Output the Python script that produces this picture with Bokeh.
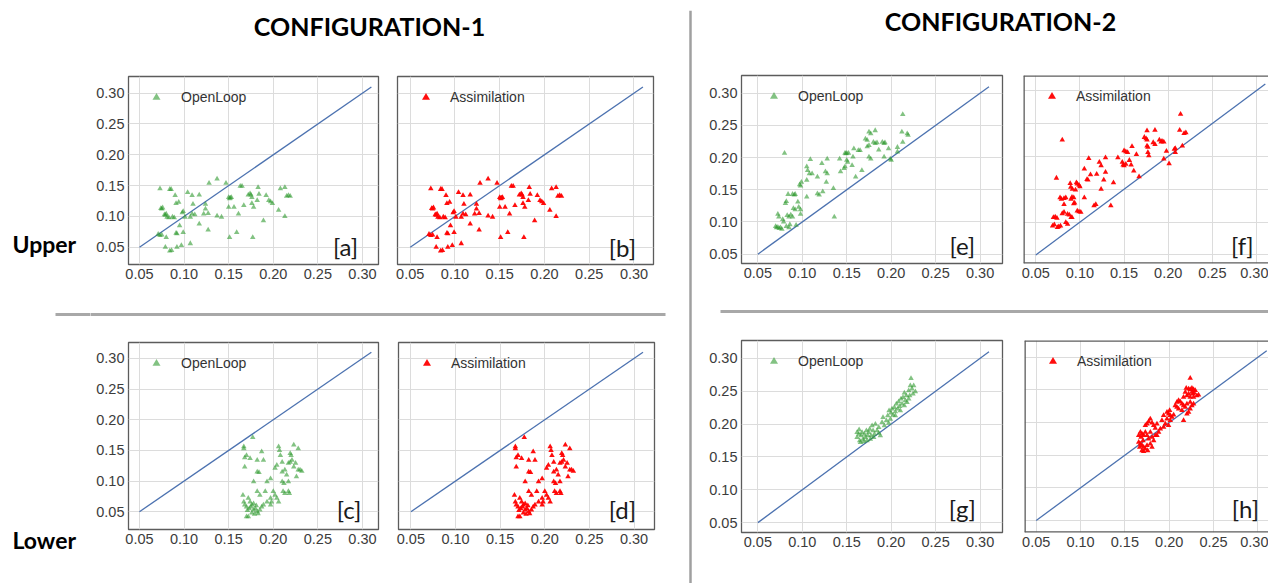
from bokeh.plotting import figure
from bokeh.layouts import row, column
from bokeh.models import Range1d, FixedTicker, NumeralTickFormatter, Label, Span
from bokeh.embed import file_html
from bokeh.resources import INLINE

# ---------------- data ----------------
ticks = [0.05, 0.10, 0.15, 0.20, 0.25, 0.30]
diag_x = [0.05, 0.31]
diag_y = [0.05, 0.31]

# Configuration-1, upper (panels a and b)
up1_x = [0.073, 0.084, 0.0855, 0.074, 0.075, 0.076, 0.078, 0.079, 0.080, 0.081, 0.083, 0.087, 0.089, 0.091,
         0.094, 0.090, 0.071, 0.073, 0.075, 0.080, 0.079, 0.084, 0.086, 0.092, 0.097, 0.091, 0.092, 0.095,
         0.099, 0.098, 0.099, 0.101, 0.104, 0.107, 0.109, 0.109, 0.110, 0.107, 0.112, 0.117, 0.117, 0.124,
         0.124, 0.122, 0.127, 0.128, 0.127, 0.137, 0.137, 0.142, 0.147, 0.150, 0.151, 0.152, 0.153, 0.150,
         0.151, 0.156, 0.159, 0.161, 0.163, 0.165, 0.167, 0.172, 0.174, 0.175, 0.176, 0.176, 0.178, 0.177,
         0.183, 0.184, 0.182, 0.192, 0.195, 0.197, 0.199, 0.189, 0.206, 0.208, 0.213, 0.213, 0.215, 0.217,
         0.219]
up1_y = [0.145, 0.144, 0.144, 0.113, 0.112, 0.114, 0.103, 0.102, 0.104, 0.099, 0.098, 0.099, 0.098, 0.121,
         0.123, 0.134, 0.071, 0.069, 0.070, 0.066, 0.050, 0.044, 0.045, 0.050, 0.053, 0.073, 0.072, 0.085,
         0.074, 0.106, 0.108, 0.099, 0.139, 0.099, 0.104, 0.134, 0.120, 0.056, 0.103, 0.135, 0.088, 0.120,
         0.112, 0.104, 0.105, 0.154, 0.078, 0.161, 0.101, 0.099, 0.154, 0.131, 0.129, 0.130, 0.131, 0.115,
         0.066, 0.115, 0.074, 0.104, 0.149, 0.149, 0.118, 0.135, 0.137, 0.135, 0.131, 0.121, 0.115, 0.066,
         0.147, 0.136, 0.126, 0.134, 0.126, 0.124, 0.121, 0.093, 0.110, 0.145, 0.147, 0.100, 0.133, 0.134,
         0.133]

# Configuration-1, lower (panels c and d)
lo1_x = [0.167, 0.167, 0.177, 0.170, 0.168, 0.168, 0.174, 0.182, 0.187, 0.182, 0.184, 0.189, 0.178, 0.166,
         0.167, 0.168, 0.170, 0.172, 0.174, 0.176, 0.178, 0.170, 0.172, 0.180, 0.182, 0.185, 0.187, 0.182,
         0.185, 0.191, 0.193, 0.197, 0.197, 0.198, 0.200, 0.202, 0.204, 0.206, 0.202, 0.204, 0.206, 0.207,
         0.208, 0.210, 0.210, 0.212, 0.210, 0.213, 0.215, 0.217, 0.217, 0.218, 0.217, 0.219, 0.221, 0.219,
         0.220, 0.223, 0.223, 0.225, 0.226, 0.228, 0.228, 0.230, 0.232, 0.193, 0.189, 0.197, 0.183, 0.178,
         0.213, 0.211, 0.175, 0.173, 0.171, 0.176, 0.179, 0.181]
lo1_y = [0.156, 0.153, 0.171, 0.142, 0.138, 0.123, 0.137, 0.134, 0.148, 0.115, 0.114, 0.134, 0.099, 0.077,
         0.066, 0.061, 0.058, 0.072, 0.066, 0.061, 0.063, 0.042, 0.042, 0.055, 0.050, 0.053, 0.058, 0.083,
         0.077, 0.083, 0.099, 0.104, 0.061, 0.066, 0.083, 0.077, 0.072, 0.066, 0.121, 0.126, 0.156, 0.150,
         0.142, 0.131, 0.099, 0.096, 0.115, 0.118, 0.110, 0.099, 0.083, 0.080, 0.129, 0.131, 0.134, 0.145,
         0.142, 0.159, 0.123, 0.129, 0.107, 0.118, 0.153, 0.118, 0.116, 0.066, 0.061, 0.072, 0.047, 0.053,
         0.080, 0.083, 0.058, 0.055, 0.052, 0.048, 0.046, 0.060]

# Configuration-2, upper, OpenLoop (panel e)
up2_ol_x = [0.080, 0.0725, 0.0736, 0.070, 0.071, 0.0725, 0.074, 0.0755, 0.077, 0.078, 0.079, 0.081, 0.082,
            0.084, 0.083, 0.085, 0.087, 0.089, 0.082, 0.085, 0.086, 0.089, 0.091, 0.092, 0.090, 0.092, 0.093,
            0.095, 0.097, 0.098, 0.099, 0.096, 0.098, 0.098, 0.105, 0.105, 0.106, 0.105, 0.109, 0.108, 0.111,
            0.117, 0.117, 0.119, 0.122, 0.123, 0.126, 0.128, 0.128, 0.127, 0.135, 0.136, 0.142, 0.143, 0.147,
            0.148, 0.148, 0.149, 0.150, 0.152, 0.150, 0.151, 0.156, 0.157, 0.160, 0.158, 0.163, 0.165, 0.167,
            0.171, 0.173, 0.175, 0.177, 0.173, 0.175, 0.175, 0.177, 0.180, 0.182, 0.184, 0.182, 0.186, 0.190,
            0.192, 0.193, 0.192, 0.197, 0.199, 0.200, 0.207, 0.207, 0.212, 0.213, 0.213, 0.218, 0.219]
up2_ol_y = [0.207, 0.112, 0.108, 0.093, 0.091, 0.092, 0.090, 0.091, 0.089, 0.104, 0.100, 0.129, 0.132,
            0.143, 0.110, 0.108, 0.111, 0.108, 0.093, 0.091, 0.096, 0.143, 0.142, 0.143, 0.121, 0.119, 0.095,
            0.131, 0.158, 0.156, 0.162, 0.123, 0.119, 0.112, 0.139, 0.186, 0.180, 0.165, 0.197, 0.175, 0.175,
            0.170, 0.144, 0.142, 0.191, 0.147, 0.178, 0.175, 0.198, 0.162, 0.152, 0.108, 0.198, 0.178, 0.183,
            0.186, 0.207, 0.206, 0.207, 0.207, 0.196, 0.193, 0.188, 0.201, 0.170, 0.214, 0.211, 0.211, 0.180,
            0.229, 0.227, 0.240, 0.237, 0.217, 0.219, 0.201, 0.198, 0.224, 0.222, 0.223, 0.242, 0.212, 0.224,
            0.222, 0.223, 0.201, 0.214, 0.198, 0.196, 0.216, 0.209, 0.240, 0.224, 0.267, 0.237, 0.235]

# Configuration-2, upper, Assimilation (panel f)
up2_as_x = [0.080, 0.0734, 0.070, 0.072, 0.074, 0.069, 0.071, 0.0745, 0.076, 0.078, 0.0775, 0.079, 0.082,
            0.084, 0.080, 0.082, 0.082, 0.086, 0.088, 0.084, 0.086, 0.089, 0.0896, 0.0915, 0.090, 0.091,
            0.093, 0.093, 0.094, 0.090, 0.091, 0.095, 0.096, 0.097, 0.099, 0.100, 0.097, 0.099, 0.101, 0.105,
            0.105, 0.108, 0.109, 0.110, 0.112, 0.116, 0.118, 0.119, 0.122, 0.124, 0.124, 0.127, 0.129, 0.129,
            0.135, 0.138, 0.143, 0.148, 0.149, 0.150, 0.152, 0.154, 0.150, 0.152, 0.156, 0.158, 0.159, 0.161,
            0.164, 0.167, 0.173, 0.175, 0.176, 0.176, 0.176, 0.177, 0.177, 0.178, 0.183, 0.185, 0.185, 0.190,
            0.192, 0.193, 0.195, 0.198, 0.201, 0.195, 0.207, 0.208, 0.208, 0.214, 0.213, 0.216, 0.218, 0.220]
up2_as_y = [0.225, 0.167, 0.107, 0.108, 0.106, 0.094, 0.096, 0.092, 0.093, 0.094, 0.137, 0.135, 0.136,
            0.137, 0.113, 0.115, 0.127, 0.112, 0.111, 0.0995, 0.097, 0.159, 0.153, 0.150, 0.135, 0.138,
            0.137, 0.128, 0.129, 0.107, 0.107, 0.149, 0.160, 0.158, 0.156, 0.154, 0.117, 0.116, 0.115, 0.137,
            0.181, 0.165, 0.164, 0.197, 0.172, 0.125, 0.127, 0.173, 0.191, 0.186, 0.150, 0.164, 0.176, 0.198,
            0.125, 0.160, 0.198, 0.191, 0.187, 0.2085, 0.207, 0.206, 0.186, 0.188, 0.194, 0.187, 0.215, 0.178,
            0.203, 0.169, 0.229, 0.227, 0.225, 0.239, 0.216, 0.214, 0.206, 0.201, 0.221, 0.218, 0.240, 0.225,
            0.222, 0.223, 0.222, 0.208, 0.189, 0.196, 0.211, 0.212, 0.206, 0.264, 0.240, 0.216, 0.235, 0.236]

# Configuration-2, lower, OpenLoop (panel g)
lo2_ol_x = [0.1616, 0.1635, 0.1646, 0.1661, 0.1672, 0.1684, 0.1699, 0.1710, 0.1721, 0.1736, 0.1747, 0.1758,
            0.1773, 0.1785, 0.1796, 0.1811, 0.1822, 0.1841, 0.1860, 0.1878, 0.1897, 0.1908, 0.1654, 0.1691,
            0.1728, 0.1616, 0.1639, 0.1766, 0.1803, 0.1860, 0.1923, 0.1946, 0.1961, 0.1976, 0.1991, 0.1998,
            0.2009, 0.2021, 0.2036, 0.2047, 0.2058, 0.2073, 0.2084, 0.2096, 0.2110, 0.2122, 0.2133, 0.2148,
            0.2159, 0.2170, 0.2178, 0.2197, 0.2208, 0.2215, 0.2223, 0.2234, 0.2245, 0.2253, 0.2272, 0.2148,
            0.2103, 0.2047, 0.1972, 0.2197]
lo2_ol_y = [0.1796, 0.1847, 0.1745, 0.1821, 0.1872, 0.1770, 0.1847, 0.1796, 0.1897, 0.1821, 0.1872, 0.1923,
            0.1821, 0.1974, 0.1897, 0.1847, 0.1999, 0.1897, 0.1948, 0.1821, 0.2024, 0.2101, 0.1720, 0.1730,
            0.1745, 0.1872, 0.1913, 0.1770, 0.1796, 0.1862, 0.1974, 0.2050, 0.2126, 0.2202, 0.2075, 0.2167,
            0.2228, 0.2136, 0.2253, 0.2187, 0.2304, 0.2228, 0.2339, 0.2268, 0.2380, 0.2304, 0.2405, 0.2472,
            0.2355, 0.2431, 0.2329, 0.2507, 0.2431, 0.2583, 0.2695, 0.2533, 0.2456, 0.2583, 0.2492, 0.2278,
            0.2202, 0.2126, 0.2014, 0.2380]

# Configuration-2, lower, Assimilation (panel h)
lo2_as_x = [0.2237, 0.2192, 0.2219, 0.2237, 0.2256, 0.2275, 0.2294, 0.2282, 0.2267, 0.2256, 0.2219, 0.2200,
            0.2181, 0.2162, 0.2237, 0.2275, 0.2312, 0.2331, 0.2087, 0.2106, 0.2125, 0.2144, 0.2087, 0.2068,
            0.2106, 0.2144, 0.2162, 0.2181, 0.2200, 0.2237, 0.2256, 0.2275, 0.2219, 0.2200, 0.2162, 0.2237,
            0.1975, 0.1993, 0.2012, 0.2005, 0.2031, 0.2050, 0.2012, 0.1975, 0.1937, 0.1918, 0.1956, 0.1993,
            0.1937, 0.1900, 0.1787, 0.1768, 0.1750, 0.1731, 0.1806, 0.1825, 0.1862, 0.1843, 0.1881, 0.1862,
            0.1675, 0.1693, 0.1712, 0.1682, 0.1656, 0.1675, 0.1693, 0.1712, 0.1693, 0.1731, 0.1750, 0.1787,
            0.1768, 0.1806, 0.1825, 0.1843, 0.1787, 0.1731, 0.1750, 0.1705, 0.1656, 0.1667, 0.1712, 0.1757,
            0.1806]
lo2_as_y = [0.2679, 0.2526, 0.2515, 0.2505, 0.2526, 0.2505, 0.2490, 0.2454, 0.2439, 0.2464, 0.2439, 0.2413,
            0.2464, 0.2388, 0.2388, 0.2388, 0.2413, 0.2423, 0.2311, 0.2337, 0.2321, 0.2286, 0.2235, 0.2260,
            0.2209, 0.2184, 0.2260, 0.2235, 0.2286, 0.2311, 0.2260, 0.2286, 0.2158, 0.2133, 0.2031, 0.2209,
            0.2158, 0.2133, 0.2107, 0.2184, 0.2082, 0.2117, 0.2031, 0.2056, 0.2107, 0.2031, 0.1980, 0.1954,
            0.1929, 0.1903, 0.2056, 0.2015, 0.1980, 0.1954, 0.1995, 0.1954, 0.1980, 0.1913, 0.1852, 0.1801,
            0.1852, 0.1827, 0.1801, 0.1776, 0.1699, 0.1673, 0.1648, 0.1622, 0.1571, 0.1597, 0.1648, 0.1673,
            0.1750, 0.1776, 0.1724, 0.1801, 0.1852, 0.1852, 0.1801, 0.1724, 0.1801, 0.1622, 0.1556, 0.1571,
            0.1622]

GREEN = "#2f9a2f"
RED = "#ff0000"
BLUE = "#4c72b0"
FRAME = "#5c5c5c"
SEP = "#a8a8a8"
TICK_FONT = "Liberation Sans"


def blank(w, h, xr, yr):
    p = figure(frame_width=w, frame_height=h, min_border_left=0, min_border_right=0,
               min_border_top=0, min_border_bottom=0, x_range=Range1d(*xr), y_range=Range1d(*yr),
               output_backend="svg", toolbar_location=None, x_axis_location=None, y_axis_location=None)
    p.grid.visible = False
    p.outline_line_color = None
    p.background_fill_color = None
    p.border_fill_color = None
    return p


def panel(fw, fh, bl, br, bt, bb, xr, yr, xs, ys, name, color, tag, tag_xy, show_y, gw, ls, open_right=False):
    p = figure(frame_width=fw, frame_height=fh, min_border_left=bl, min_border_right=br,
               min_border_top=bt, min_border_bottom=bb, x_range=Range1d(*xr), y_range=Range1d(*yr),
               output_backend="svg", toolbar_location=None)
    p.background_fill_color = "white"
    p.border_fill_color = None
    if open_right:
        p.outline_line_color = None
        p.add_layout(Span(location=xr[0], dimension="height", line_color=FRAME, line_width=2.6))
        p.add_layout(Span(location=yr[0], dimension="width", line_color=FRAME, line_width=2.6))
        p.add_layout(Span(location=yr[1], dimension="width", line_color=FRAME, line_width=2.6))
    else:
        p.outline_line_color = FRAME
        p.outline_line_width = 1.3
    p.line(diag_x, diag_y, line_color=BLUE, line_width=1.3)
    p.scatter(xs, ys, marker="triangle", size=5.5, fill_color=color, line_color=None,
              fill_alpha=0.6 if color == GREEN else 0.95, legend_label=name)
    for ax in p.axis:
        ax.ticker = FixedTicker(ticks=ticks)
        ax.formatter = NumeralTickFormatter(format="0.00")
        ax.major_tick_line_color = None
        ax.minor_tick_line_color = None
        ax.major_tick_out = 0
        ax.major_tick_in = 0
        ax.axis_line_color = None
        ax.major_label_text_font = TICK_FONT
        ax.major_label_text_font_size = "14.5px"
        ax.major_label_text_color = "#3c3c3c"
        ax.major_label_standoff = 4
    p.yaxis.visible = show_y
    for g in p.grid:
        g.ticker = FixedTicker(ticks=ticks)
        g.grid_line_color = "#dcdcdc"
        g.grid_line_width = 1
    lg = p.legend[0]
    lg.location = "top_left"
    lg.margin = 11
    lg.padding = 0
    lg.glyph_width = gw
    lg.glyph_height = 20
    lg.label_height = 20
    lg.label_standoff = ls
    lg.border_line_color = None
    lg.background_fill_alpha = 0
    lg.label_text_font = TICK_FONT
    lg.label_text_font_size = "14px"
    lg.label_text_color = "#333333"
    p.add_layout(Label(x=tag_xy[0], y=tag_xy[1], text=tag, text_align="center", text_baseline="middle",
                       text_font="Lato", text_font_size="24px", text_color="#1a1a1a"))
    return p


# ---------------- left block ----------------
headL = blank(688, 62, (0, 688), (62, 0))
headL.add_layout(Label(x=369, y=25, text="CONFIGURATION-1", text_align="center", text_baseline="middle",
                       text_font="Lato", text_font_style="bold", text_font_size="25px", text_color="black"))

side = blank(90, 521, (0, 90), (583, 62))
side.add_layout(Label(x=12, y=243.5, text="Upper", text_align="left", text_baseline="middle",
                      text_font="Lato", text_font_style="bold", text_font_size="23px", text_color="black"))
side.add_layout(Label(x=12, y=539, text="Lower", text_align="left", text_baseline="middle",
                      text_font="Lato", text_font_style="bold", text_font_size="23px", text_color="black"))
side.segment(x0=[55], y0=[314], x1=[100], y1=[314], line_color=SEP, line_width=3)

pa = panel(250, 188, 38, 8, 14, 36, (0.0377, 0.318), (0.022, 0.327), up1_x, up1_y, "OpenLoop", GREEN,
           "[a]", (0.281, 0.051), True, 34, 8)
pb = panel(256, 188, 11, 35, 14, 36, (0.0358, 0.3218), (0.022, 0.327), up1_x, up1_y, "Assimilation", RED,
           "[b]", (0.287, 0.049), False, 35, 7)

sepL = blank(598, 18, (90, 688), (318, 300))
sepL.segment(x0=[80], y0=[314], x1=[665], y1=[314], line_color=SEP, line_width=3)

pc = panel(250, 187, 38, 8, 24, 54, (0.0377, 0.318), (0.021, 0.326), lo1_x, lo1_y, "OpenLoop", GREEN,
           "[c]", (0.285, 0.053), True, 34, 8)
pd = panel(256, 187, 12, 34, 24, 54, (0.0361, 0.3229), (0.021, 0.326), lo1_x, lo1_y, "Assimilation", RED,
           "[d]", (0.287, 0.054), False, 35, 7)

left = column(headL, row(side, column(row(pa, pb), sepL, row(pc, pd))))

# ---------------- separator ----------------
vsep = blank(4, 573, (0, 1), (0, 1))
vsep.min_border_top = 10
vsep.add_layout(Span(location=0.5, dimension="height", line_color="#a0a0a0", line_width=2.5))

# ---------------- right block ----------------
headR = blank(576, 62, (692, 1268), (62, 0))
headR.add_layout(Label(x=1000, y=20, text="CONFIGURATION-2", text_align="center", text_baseline="middle",
                       text_font="Lato", text_font_style="bold", text_font_size="25px", text_color="black"))

pe = panel(261, 188, 49, 8, 13, 37, (0.0316, 0.3252), (0.0355, 0.3275), up2_ol_x, up2_ol_y, "OpenLoop",
           GREEN, "[e]", (0.280, 0.064), True, 43, 3)
pf = panel(245, 188, 13, 0, 13, 37, (0.0361, 0.3136), (0.037, 0.323), up2_as_x, up2_as_y, "Assimilation",
           RED, "[f]", (0.284, 0.065), False, 35, 7, open_right=True)

sepR = blank(576, 18, (692, 1268), (318, 300))
sepR.segment(x0=[720], y0=[311], x1=[1268], y1=[311], line_color=SEP, line_width=3)

pg = panel(261, 192, 49, 8, 22, 51, (0.0316, 0.3252), (0.035, 0.327), lo2_ol_x, lo2_ol_y, "OpenLoop",
           GREEN, "[g]", (0.280, 0.072), True, 43, 3)
ph = panel(244, 192, 14, 0, 22, 51, (0.0368, 0.312), (0.0316, 0.3256), lo2_as_x, lo2_as_y, "Assimilation",
           RED, "[h]", (0.286, 0.068), False, 35, 7, open_right=True)

right = column(headR, row(pe, pf), sepR, row(pg, ph))

layout = row(left, vsep, right)

open("out.html", "w").write(file_html(layout, INLINE))
